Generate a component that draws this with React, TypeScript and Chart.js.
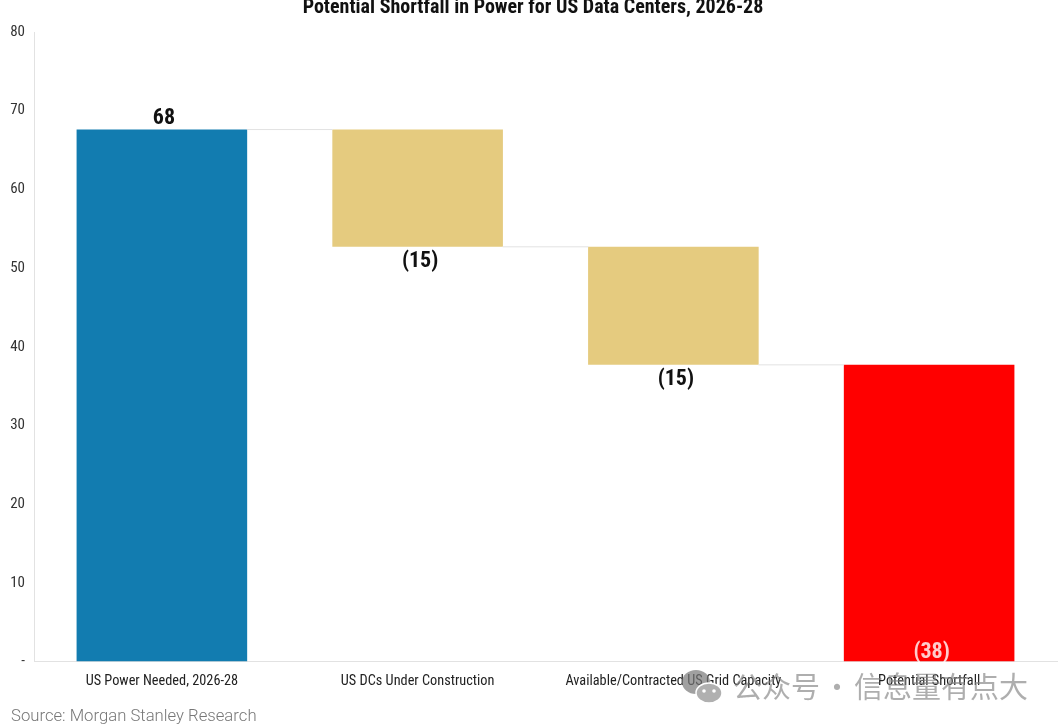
import { useEffect, useRef } from 'react';
import { Chart, registerables, type Plugin } from 'chart.js';

Chart.register(...registerables);

const NARROW = '"Roboto Condensed", Roboto, sans-serif';

const chartTitle = 'Potential Shortfall in Power for US Data Centers, 2026-28';
const categories = ['US Power Needed, 2026-28', 'US DCs Under Construction', 'Available/Contracted US Grid Capacity', 'Potential Shortfall'];
const barBase = [0, 52.7, 37.7, 0];
const barTop = [67.6, 67.6, 52.7, 37.7];
const barColors = ['#127cb0', '#e5cb7f', '#e5cb7f', '#ff0000'];
const valueLabels = ['68', '(15)', '(15)', '(38)'];
const labelColors = ['#111111', '#111111', '#111111', 'rgba(255,255,255,0.8)'];

// Roboto has no narrow cut installed, so ask for the condensed stretch on the whole canvas
const condensedText: Plugin<'bar'> = {
  id: 'condensedText',
  beforeDraw(chart) {
    const ctx = chart.ctx as CanvasRenderingContext2D;
    ctx.fontStretch = 'condensed';
  },
};

// title, connectors between bars and the value labels
const waterfallExtras: Plugin<'bar'> = {
  id: 'waterfallExtras',
  afterDatasetsDraw(chart) {
    const { ctx, scales: { x, y } } = chart;
    const bars = chart.getDatasetMeta(0).data;
    ctx.save();
    ctx.strokeStyle = '#e2e2e2';
    ctx.lineWidth = 1;
    for (let i = 0; i < bars.length - 1; i++) {
      const level = i === 0 ? barTop[0] : barBase[i];
      const yy = y.getPixelForValue(level);
      ctx.beginPath();
      ctx.moveTo(x.getPixelForValue(i) + 85, yy);
      ctx.lineTo(x.getPixelForValue(i + 1) - 85, yy);
      ctx.stroke();
    }
    ctx.textAlign = 'center';
    ctx.textBaseline = 'middle';

    ctx.fillStyle = '#111111';
    ctx.font = `bold 20px ${NARROW}`;
    ctx.fillText(chartTitle, chart.width / 2 + 1, 8);

    ctx.font = `bold 22px ${NARROW}`;
    valueLabels.forEach((text, i) => {
      ctx.fillStyle = labelColors[i];
      let yy = y.getPixelForValue(barBase[i]) + 14.5;
      if (i === 0) yy = y.getPixelForValue(barTop[0]) - 11;
      if (i === 3) yy = y.getPixelForValue(0) - 9.5;
      ctx.fillText(text, x.getPixelForValue(i) + (i === 0 ? 2 : 2.5), yy);
    });
    ctx.restore();
  },
};

const markStyle = { position: 'absolute', top: 664, fontFamily: '"Noto Sans CJK SC", sans-serif', fontSize: 29, color: 'rgba(130,130,130,0.65)', whiteSpace: 'nowrap' } as const;

export default function App() {
  const canvasRef = useRef<HTMLCanvasElement>(null);

  useEffect(() => {
    if (!canvasRef.current) return;
    document.body.style.margin = '0';
    const chart = new Chart(canvasRef.current, {
      type: 'bar',
      plugins: [condensedText, waterfallExtras],
      data: {
        labels: categories,
        datasets: [{
          data: barBase.map((b, i) => [b, barTop[i]] as [number, number]),
          backgroundColor: barColors,
          categoryPercentage: 1,
          barPercentage: 0.667,
          borderWidth: 0,
        }],
      },
      options: {
        responsive: false,
        animation: false,
        layout: { padding: { top: 32, right: 7, bottom: 0, left: 0 } },
        plugins: {
          legend: { display: false },
          tooltip: { enabled: false },
        },
        scales: {
          x: {
            grid: { display: false, drawTicks: false },
            border: { color: '#e2e2e2', width: 1 },
            ticks: { color: '#222222', font: { family: NARROW, size: 14.3 }, maxRotation: 0, autoSkip: false, padding: 11 },
            afterFit: (s) => { s.height = 66.5; },
          },
          y: {
            min: 0,
            max: 80,
            afterFit: (s) => { s.width = 34; },
            grid: { display: false, drawTicks: false },
            border: { color: '#e2e2e2', width: 1 },
            ticks: {
              stepSize: 10,
              color: '#333333',
              padding: 9,
              font: { family: NARROW, size: 15 },
              callback: (v) => (v === 0 ? '-' : String(v)),
            },
          },
        },
      },
    });
    return () => chart.destroy();
  }, []);

  return (
    <div style={{ position: 'relative', width: 1064, height: 728, background: '#fff', overflow: 'hidden' }}>
      <canvas ref={canvasRef} width={1064} height={728} style={{ display: 'block' }} />
      <div style={{ position: 'absolute', left: 11, top: 706, fontFamily: 'Roboto, sans-serif', fontWeight: 300, fontSize: 16.7, color: '#777', whiteSpace: 'nowrap' }}>
        Source: Morgan Stanley Research
      </div>
      <svg style={{ position: 'absolute', left: 681, top: 668 }} width="46" height="38" viewBox="0 0 46 38">
        <ellipse cx="15" cy="14" rx="14" ry="12" fill="rgba(120,120,120,0.7)" />
        <ellipse cx="28" cy="25" rx="13" ry="10" fill="#b0b0b0" stroke="#fff" strokeWidth="1.5" />
        <circle cx="23" cy="23" r="1.8" fill="#fff" />
        <circle cx="33" cy="23" r="1.8" fill="#fff" />
      </svg>
      <div style={{ ...markStyle, left: 733 }}>公众号</div>
      <div style={{ ...markStyle, left: 837, transform: 'translateX(-50%)' }}>·</div>
      <div style={{ ...markStyle, left: 854 }}>信息量有点大</div>
    </div>
  );
}
